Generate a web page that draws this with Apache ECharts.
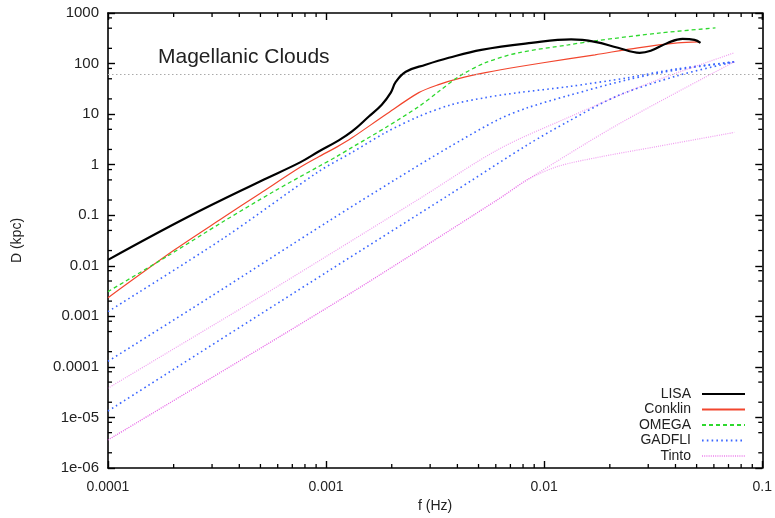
<!DOCTYPE html>
<html><head><meta charset="utf-8">
<script src="https://cdn.jsdelivr.net/npm/echarts@6/dist/echarts.min.js"></script>
<style>html,body{margin:0;padding:0;background:#fff;}#c{width:775px;height:518px;}</style>
</head><body><div id="c"></div>
<script>
// ---- data (f in Hz, D in kpc) ----
const xRange = [0.0001, 0.1];
const yRange = [1e-6, 1000];
const xMinorTicks = [2e-4,3e-4,4e-4,5e-4,6e-4,7e-4,8e-4,9e-4,
  2e-3,3e-3,4e-3,5e-3,6e-3,7e-3,8e-3,9e-3,
  2e-2,3e-2,4e-2,5e-2,6e-2,7e-2,8e-2,9e-2];
const yMinorTicks = [2e-6,5e-6,8e-6,2e-5,5e-5,8e-5,2e-4,5e-4,8e-4,2e-3,5e-3,8e-3,
  2e-2,5e-2,8e-2,0.2,0.5,0.8,2,5,8,20,50,80,200,500,800];
const magellanicD = 62;

const lisa = [[1e-4,0.0131],[2.32e-4,0.0922],[5.0e-4,0.471],[7.60e-4,1.11],[9.29e-4,1.84],
  [1.122e-3,2.89],[1.315e-3,4.54],[1.57e-3,8.97],[1.80e-3,15.4],[1.98e-3,26.6],[2.09e-3,43.8],
  [2.32e-3,69.0],[2.86e-3,94.7],[3.65e-3,130],[5.15e-3,187],[8.73e-3,256],[1.33e-2,300],
  [1.71e-2,269],[2.18e-2,205],[2.74e-2,163],[3.08e-2,179],[3.68e-2,256],[4.31e-2,308],
  [4.89e-2,294],[5.21e-2,256]];
const conklin = [[1e-4,0.00234],[2.02e-4,0.0207],[3.35e-4,0.0881],[5.0e-4,0.273],[7.60e-4,0.889],
  [9.29e-4,1.45],[1.122e-3,2.25],[1.315e-3,3.4],[1.879e-3,9.83],[2.66e-3,26.6],[3.28e-3,38.3],
  [4.05e-3,50.2],[5.38e-3,65.9],[7.61e-3,86.5],[1.288e-2,124],[1.71e-2,149],[2.69e-2,205],
  [4.09e-2,256],[5.15e-2,269]];
const omega = [[1e-4,0.00308],[1.88e-4,0.0157],[3.35e-4,0.0734],[5.79e-4,0.299],[9.29e-4,0.93],
  [1.122e-3,1.46],[1.315e-3,2.20],[1.879e-3,5.45],[2.66e-3,14.1],[3.28e-3,27.9],[4.05e-3,55.0],
  [5.38e-3,104],[7.61e-3,163],[1.288e-2,234],[1.71e-2,281],[3.42e-2,404],[6.10e-2,507]];
const gadfli1 = [[1e-4,0.00124],[3.35e-4,0.034],[9.29e-4,0.741],[1.315e-3,1.75],[1.879e-3,4.34],
  [2.66e-3,8.97],[3.76e-3,15.4],[5.38e-3,21.2],[7.61e-3,26.6],[1.288e-2,34.9],[2.42e-2,52.5],
  [4.09e-2,79.0],[7.44e-2,108]];
const gadfli2 = [[1e-4,1.29e-4],[2.86e-4,2.24e-3],[1.03e-3,0.0769],[2.09e-3,0.516],[3.65e-3,2.20],
  [6.17e-3,7.83],[8.45e-3,13.5],[1.288e-2,23.2],[2.42e-2,48.0],[4.09e-2,75.5],[7.44e-2,108]];
const gadfli3 = [[1e-4,1.34e-5],[1.03e-3,0.00798],[3.65e-3,0.250],[8.45e-3,2.52],[1.288e-2,7.15],
  [2.18e-2,23.2],[4.09e-2,57.6],[7.44e-2,108]];
const tinto1 = [[1e-4,3.79e-5],[4.84e-4,2.24e-3],[1.03e-3,0.0165],[2.66e-3,0.208],[6.17e-3,2.01],
  [1.288e-2,8.57],[2.98e-2,40.0],[7.44e-2,163]];
const tinto2 = [[1e-4,3.59e-6],[1.122e-3,1.95e-3],[6.17e-3,0.208],[8.45e-3,0.516],[2.18e-2,6.24],[7.44e-2,108]];
const tinto3 = [[1e-4,3.59e-6],[1.122e-3,1.95e-3],[6.17e-3,0.208],[8.45e-3,0.516],[1.16e-2,0.93],
  [1.77e-2,1.40],[3.32e-2,2.30],[7.44e-2,4.34]];
const legendNames = ['LISA','Conklin','OMEGA','GADFLI','Tinto'];

// ---- chart ----
const FONT = 'Liberation Sans, Arial, Helvetica, sans-serif';
const chart = echarts.init(document.getElementById('c'), null, {renderer:'canvas'});
function yFmt(v){
  const e = Math.round(Math.log10(v));
  if (e >= 0) return '1' + '0'.repeat(e);
  if (e >= -4) return '0.' + '0'.repeat(-e-1) + '1';
  return '1e-' + String(-e).padStart(2,'0');
}
function xFmt(v){
  const e = Math.round(Math.log10(v));
  if (e >= 0) return '1' + '0'.repeat(e);
  return '0.' + '0'.repeat(-e-1) + '1';
}
const axisLine = {show:true, lineStyle:{color:'#000', width:1.6}};
const majorTick = {show:true, inside:true, length:7, lineStyle:{color:'#000', width:1.4}};
function lineSeries(name, data, style){
  return Object.assign({type:'line', name, data, symbol:'none', smooth:0.3,
    xAxisIndex:0, yAxisIndex:0, silent:true}, style);
}
const tintoStyle = {lineStyle:{color:'#e33ee3', width:1.2, type:[1,1.2], opacity:0.5}, itemStyle:{color:'#e33ee3'}};
const gadfliStyle = {lineStyle:{color:'#3b66ff', width:1.6, type:[1.6,3.2]}, itemStyle:{color:'#3b66ff'}};
const minorTickLen = 4;
const option = {
  animation:false,
  backgroundColor:'#fff',
  grid:{left:108, right:10, top:13, bottom:48, show:false},
  xAxis:[
    {type:'log', logBase:10, min:xRange[0], max:xRange[1], position:'bottom',
     axisLine, axisTick:majorTick, splitLine:{show:false},
     axisLabel:{formatter:xFmt, color:'#222', fontSize:14, fontFamily:FONT, margin:12},
     name:'f (Hz)', nameLocation:'middle', nameGap:31,
     nameTextStyle:{color:'#222', fontSize:14, fontFamily:FONT}},
    {type:'log', logBase:10, min:xRange[0], max:xRange[1], position:'top',
     axisLine, axisTick:majorTick, splitLine:{show:false}, axisLabel:{show:false}}
  ],
  yAxis:[
    {type:'log', logBase:10, min:yRange[0], max:yRange[1], position:'left',
     axisLine, axisTick:majorTick, splitLine:{show:false},
     axisLabel:{formatter:yFmt, color:'#222', fontSize:15, fontFamily:FONT, margin:9},
     name:'D (kpc)', nameLocation:'middle', nameGap:84, nameRotate:90,
     nameTextStyle:{color:'#222', fontSize:14, fontFamily:FONT}},
    {type:'log', logBase:10, min:yRange[0], max:yRange[1], position:'right',
     axisLine, axisTick:majorTick, splitLine:{show:false}, axisLabel:{show:false}}
  ],
  legend:{
    data:legendNames, orient:'vertical', right:24, top:382, align:'right',
    itemWidth:43, itemHeight:14, itemGap:1.5,
    itemStyle:{opacity:0, borderWidth:0},
    textStyle:{color:'#222', fontSize:14, fontFamily:FONT, padding:[0,6,0,0]}
  },
  graphic:[{type:'text', left:158, top:47,
    style:{text:'Magellanic Clouds', fill:'#222', font:'21px ' + FONT}}],
  series:[
    lineSeries('LISA', lisa, {lineStyle:{color:'#000', width:2.2}, itemStyle:{color:'#000'}, z:5, smooth:0.4,
      markLine:{silent:true, symbol:'none', label:{show:false},
        lineStyle:{color:'#aaa', type:[1.5,2.5], width:1}, data:[{yAxis:magellanicD}]}}),
    lineSeries('Conklin', conklin, {lineStyle:{color:'#f2462e', width:1.2}, itemStyle:{color:'#f2462e'}}),
    lineSeries('OMEGA', omega, {lineStyle:{color:'#2ed82e', width:1.3, type:[4,3]}, itemStyle:{color:'#2ed82e'}}),
    lineSeries('GADFLI', gadfli1, gadfliStyle),
    lineSeries('GADFLI', gadfli2, gadfliStyle),
    lineSeries('GADFLI', gadfli3, gadfliStyle),
    lineSeries('Tinto', tinto1, tintoStyle),
    lineSeries('Tinto', tinto2, tintoStyle),
    lineSeries('Tinto', tinto3, tintoStyle),
    {type:'custom', name:'xminor', silent:true, z:20, clip:false, xAxisIndex:0, yAxisIndex:0,
     data:xMinorTicks.map(v => [v, yRange[0]]),
     renderItem:(params, api) => {
       const v = api.value(0);
       const b = api.coord([v, yRange[0]]), t = api.coord([v, yRange[1]]);
       const st = {stroke:'#000', lineWidth:1.3};
       return {type:'group', children:[
         {type:'line', shape:{x1:b[0], y1:b[1], x2:b[0], y2:b[1]-minorTickLen}, style:st},
         {type:'line', shape:{x1:t[0], y1:t[1], x2:t[0], y2:t[1]+minorTickLen}, style:st}]};
     }},
    {type:'custom', name:'yminor', silent:true, z:20, clip:false, xAxisIndex:0, yAxisIndex:0,
     data:yMinorTicks.map(v => [xRange[0], v]),
     renderItem:(params, api) => {
       const v = api.value(1);
       const l = api.coord([xRange[0], v]), r = api.coord([xRange[1], v]);
       const st = {stroke:'#000', lineWidth:1.3};
       return {type:'group', children:[
         {type:'line', shape:{x1:l[0], y1:l[1], x2:l[0]+minorTickLen, y2:l[1]}, style:st},
         {type:'line', shape:{x1:r[0], y1:r[1], x2:r[0]-minorTickLen, y2:r[1]}, style:st}]};
     }}
  ]
};
chart.setOption(option);
</script></body></html>
